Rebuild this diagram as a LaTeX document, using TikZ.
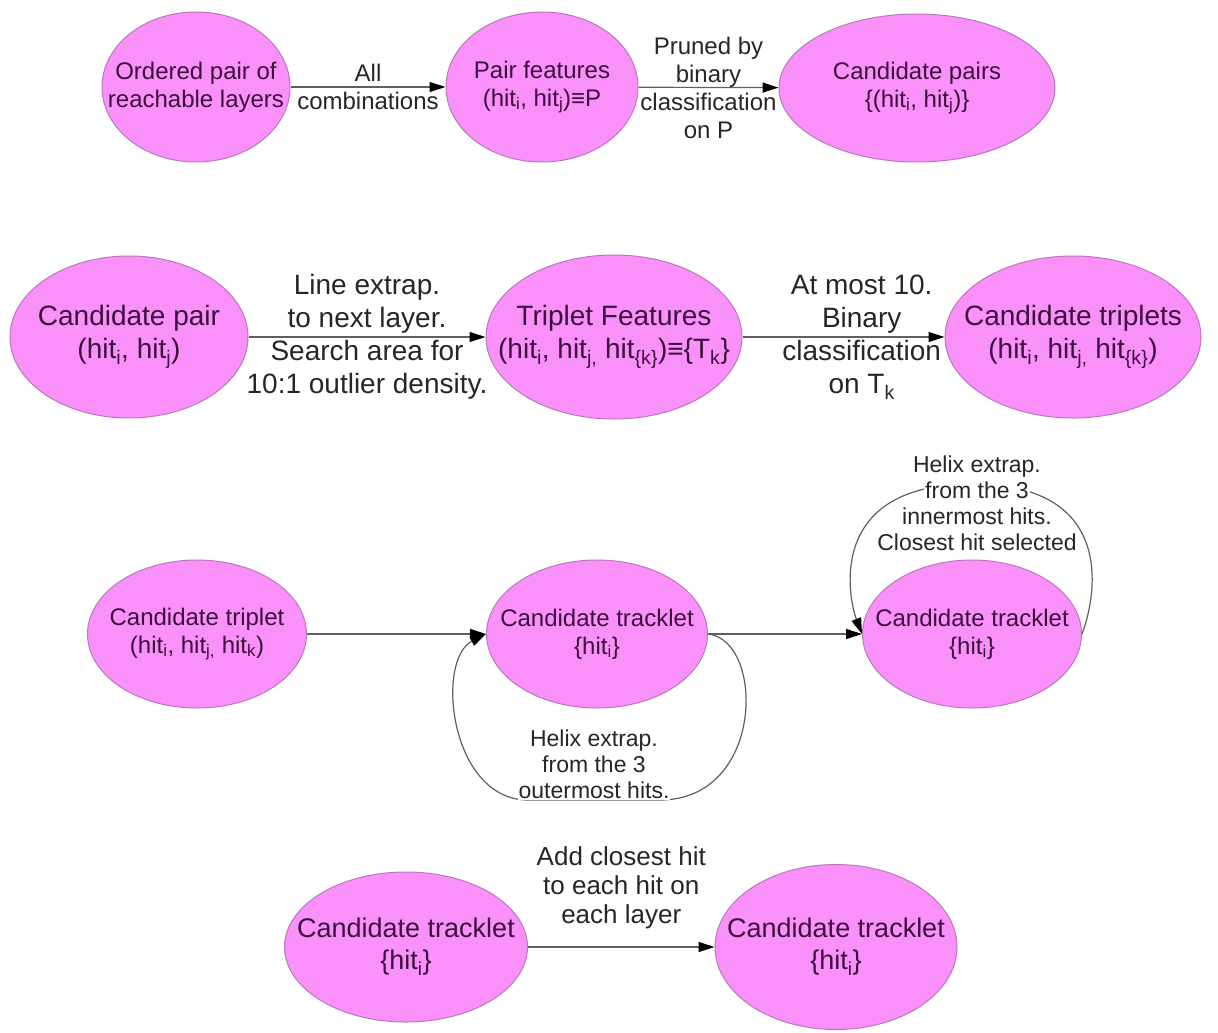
\documentclass[tikz,border=0pt]{standalone}
\usepackage{fontspec}
\setmainfont{Liberation Sans}
\usetikzlibrary{shapes.geometric,arrows.meta}

\definecolor{bubblefill}{RGB}{250,145,250}
\definecolor{bubbleline}{RGB}{185,120,185}
\definecolor{bubbletext}{RGB}{60,15,60}
\definecolor{wire}{RGB}{95,95,95}

\newcommand{\idx}[1]{\textsubscript{#1}}
\newcommand{\masked}[1]{{\setlength{\fboxsep}{1pt}\colorbox{white}{#1}}}

\begin{document}
\begin{tikzpicture}[x=1pt, y=-1pt,
                    bubble/.style={
                    ellipse,
                    draw=bubbleline,
                    line width=1pt,
                    fill=bubblefill,
                    text=bubbletext,
                    inner xsep=-60pt,
                    inner ysep=-20pt,
                    align=center,
                    },
                    note/.style={
                    text=black!85,
                    inner sep=0pt,
                    align=center,
                    },
                    flow/.style={
                    draw=wire,
                    line width=1.2pt,
                    -{Triangle[length=16pt,width=10pt,color=black]},
                    },
                    f28/.style={font=\fontsize{28}{33}\selectfont},
                    f27/.style={font=\fontsize{27}{32}\selectfont},
                    f26/.style={font=\fontsize{26}{29}\selectfont},
                    f24/.style={font=\fontsize{24}{28}\selectfont},
                    f23/.style={font=\fontsize{23}{26}\selectfont},
                    ]

\useasboundingbox (0,0) rectangle (1218,1033);

% pair building
\draw
(196,87) node[bubble, f24, minimum width=188, minimum height=150] (layers) {Ordered pair of\\reachable layers}
(542,87) node[bubble, f24, minimum width=192, minimum height=150] (pairfeat) {Pair features\\(hit\idx{i}, hit\idx{j})≡P}
(917,88) node[bubble, f24, minimum width=276, minimum height=148] (pairs) {Candidate pairs\\\{(hit\idx{i}, hit\idx{j})\}}
;
\draw[flow] (layers) -- node[note, f24] {All\\combinations} (pairfeat);
\draw[flow] (pairfeat) -- node[note, f24] {Pruned by\\binary\\classification\\on P} (pairs);

% triplet building
\draw
(129,337) node[bubble, f28, minimum width=238, minimum height=162] (pair) {Candidate pair\\(hit\idx{i}, hit\idx{j})}
(614,337) node[bubble, f28, minimum width=256, minimum height=164] (tripfeat) {Triplet Features\\(hit\idx{i}, hit\idx{j,} hit\idx{\{k\}})≡\{T\idx{k}\}}
(1073,337) node[bubble, f28, minimum width=256, minimum height=162] (triplets) {Candidate triplets\\(hit\idx{i}, hit\idx{j,} hit\idx{\{k\}})}
;
\draw[flow] (pair) -- node[note, f28] {Line extrap.\\to next layer.\\Search area for\\10:1 outlier density.} (tripfeat);
\draw[flow] (tripfeat) -- node[note, f28, pos=0.59] {At most 10.\\Binary\\classification\\on T\idx{k}} (triplets);

% tracklet extension
\draw
(197,634) node[bubble, f24, minimum width=219, minimum height=148] (triplet) {Candidate triplet\\(hit\idx{i}, hit\idx{j,} hit\idx{k})}
(597,634) node[bubble, f24, minimum width=221, minimum height=148] (trk1) {Candidate tracklet\\\{hit\idx{i}\}}
(972,634) node[bubble, f24, minimum width=219, minimum height=148] (trk2) {Candidate tracklet\\\{hit\idx{i}\}}
;
\draw[flow] (triplet) -- (trk1);
\draw[flow] (trk1) -- (trk2);
\draw[flow] (trk1.east) .. controls (765,640) and (765,800) .. (660,800) -- (528,800) .. controls (450,800) and (435,660) .. (trk1.west);
\draw[flow] (trk2.east) .. controls (1095,600) and (1120,484) .. (972,484) .. controls (824,484) and (849,600) .. (trk2.west);
\node[note, f23] (outer) at (594,765) {Helix extrap.\\from the 3\\\masked{outermost hits.}};
\node[note, f23] (inner) at (977,503) {Helix extrap.\\\masked{from the 3}\\innermost hits.\\Closest hit selected};

% closest hit
\draw
(406,947) node[bubble, f27, minimum width=243, minimum height=150] (trk3) {Candidate tracklet\\\{hit\idx{i}\}}
(836,947) node[bubble, f27, minimum width=242, minimum height=165] (trk4) {Candidate tracklet\\\{hit\idx{i}\}}
;
\draw[flow] (trk3) -- node[note, f26, above=18pt] {Add closest hit\\to each hit on\\each layer} (trk4);

\end{tikzpicture}
\end{document}
